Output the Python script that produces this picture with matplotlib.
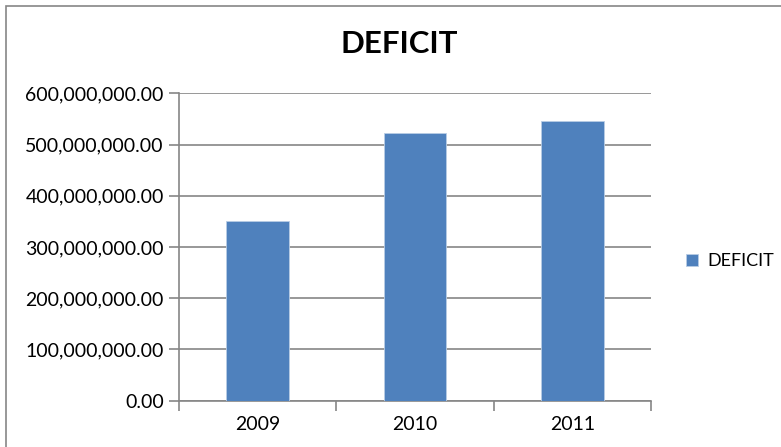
import matplotlib
matplotlib.use("Agg")
import matplotlib.pyplot as plt
from matplotlib.ticker import FuncFormatter, FixedLocator
from matplotlib.patches import Rectangle

years = ["2009", "2010", "2011"]
deficit = [350_000_000, 522_000_000, 546_000_000]
y_ticks = [0, 100_000_000, 200_000_000, 300_000_000, 400_000_000, 500_000_000, 600_000_000]

plt.rcParams['font.family'] = ['Lato', 'DejaVu Sans']

fig = plt.figure(figsize=(7.81, 4.47), dpi=100)
ax = fig.add_axes([179 / 781, 1 - 400.7 / 447, (651 - 179) / 781, (400.7 - 93.3) / 447])

grey = '#868686'
x = list(range(len(years)))
ax.bar(x, deficit, width=0.4, color='#4F81BD', edgecolor='#B9CDE5', linewidth=0.6,
       label='DEFICIT', zorder=3)

ax.set_xlim(-0.5, len(years) - 0.5)
ax.set_ylim(0, 600_000_000)
ax.set_yticks(y_ticks)
ax.yaxis.set_major_formatter(FuncFormatter(lambda v, p: f"{v:,.2f}"))
ax.set_xticks(x)
ax.set_xticklabels(years)
ax.xaxis.set_minor_locator(FixedLocator([-0.5, 0.5, 1.5, 2.5]))

ax.grid(axis='y', color=grey, linewidth=1.2, zorder=0)
for s in ['top', 'right']:
    ax.spines[s].set_visible(False)
for s in ['left', 'bottom']:
    ax.spines[s].set_color(grey)
    ax.spines[s].set_linewidth(1.2)

# Excel-like fonts, a bit bigger than default
ax.tick_params(axis='y', length=7, width=1.2, color=grey, labelsize=14, pad=4)
ax.tick_params(axis='x', which='major', length=0, labelsize=14, pad=11)
ax.tick_params(axis='x', which='minor', length=7, width=1.2, color=grey)

fig.text(399.5 / 781, 1 - 44 / 447, "DEFICIT", ha='center', va='center',
         fontsize=22.5, fontweight='bold')

ax.legend(loc='center left', bbox_to_anchor=(677 / 781, 1 - 261 / 447),
          bbox_transform=fig.transFigure, frameon=False, fontsize=13,
          handlelength=0.65, handleheight=0.65, handletextpad=0.55, borderpad=0)

fig.patches.append(Rectangle((6 / 781, -0.1), 1.2, 1 - 6 / 447 + 0.1,
                             transform=fig.transFigure, fill=False,
                             edgecolor=grey, linewidth=1.2))

fig.savefig("out.png", dpi=100)
